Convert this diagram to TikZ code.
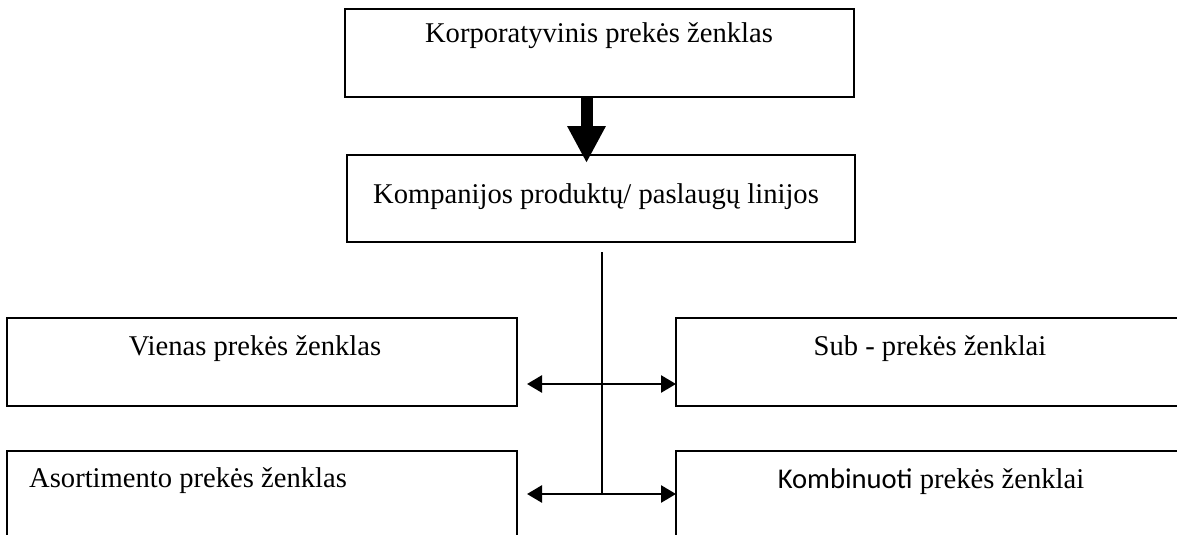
\documentclass[tikz,border=0pt]{standalone}
\usepackage{fontspec}
\setmainfont{Liberation Serif}
\newfontfamily\calfont{Carlito}
\usetikzlibrary{arrows.meta}
\begin{document}
\begin{tikzpicture}[x=1pt,y=-1pt,
  box/.style={draw, line width=2.2pt, inner sep=0pt, outer sep=0pt, anchor=north west},
  txt/.style={anchor=base, inner sep=0pt, font=\fontsize{28.6pt}{34pt}\selectfont},
  dbl/.style={line width=2.6pt, {Triangle[length=15pt,width=17pt]}-{Triangle[length=15pt,width=17pt]}},
  thin/.style={line width=1.6pt},
  bigarrow/.style={line width=12pt, -{Triangle[length=37pt,width=36pt]}}]
\useasboundingbox (0,0) rectangle (1177,535);
\clip (0,0) rectangle (1177,535);
% boxes
\node[box, minimum width=509pt, minimum height=88pt] (top) at (345,9) {};
\node[box, minimum width=508pt, minimum height=87pt] (mid) at (347,155) {};
\node[box, minimum width=510pt, minimum height=88pt] (L1) at (7,318) {};
\node[box, minimum width=509pt, minimum height=88pt] (R1) at (676,318) {};
\node[box, minimum width=510pt, minimum height=110pt] (L2) at (7,451) {};
\node[box, minimum width=509pt, minimum height=110pt] (R2) at (676,451) {};
% texts
\node[txt] (ttop) at (599,42) {Korporatyvinis prekės ženklas};
\node[txt] (tmid) at (596,203) {Kompanijos produktų/ paslaugų linijos};
\node[txt] (tL1) at (255,355) {Vienas prekės ženklas};
\node[txt] (tR1) at (930,355) {Sub - prekės ženklai};
\node[txt, anchor=base west] (tL2) at (29,487) {Asortimento prekės ženklas};
\node[txt] (tR2) at (931,488) {{\calfont Kombinuoti} prekės ženklai};
% connectors
\coordinate (tipA) at (586.5,163);
\draw[bigarrow] (top.south -| tipA) -- (tipA);
\coordinate (vtop) at (601.7,252);
\coordinate (aL1) at (527,384);
\coordinate (aL2) at (527,494);
\draw[thin] (vtop) -- (vtop |- aL2);
\draw[dbl] (aL1) -- (aL1 -| R1.west);
\draw[dbl] (aL2) -- (aL2 -| R2.west);
\end{tikzpicture}
\end{document}
